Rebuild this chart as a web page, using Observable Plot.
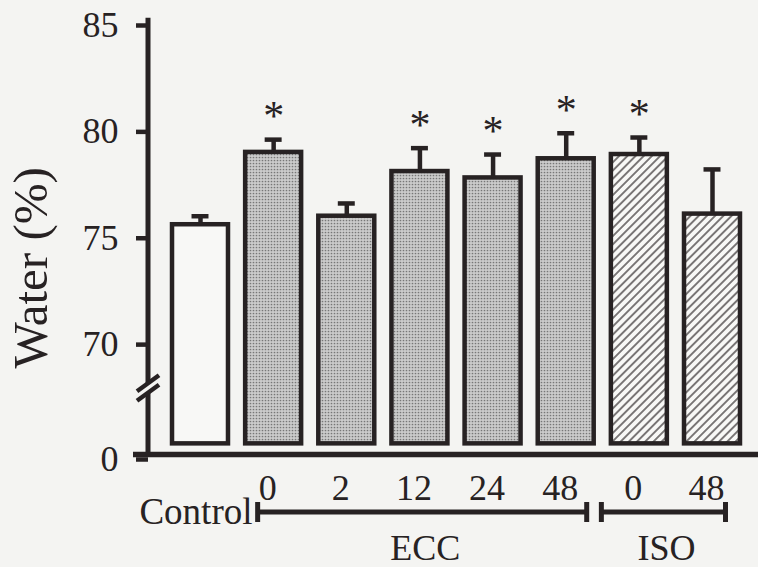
<!DOCTYPE html>
<html>
<head>
<meta charset="utf-8">
<script src="https://cdn.jsdelivr.net/npm/d3@7"></script>
<script src="https://cdn.jsdelivr.net/npm/@observablehq/plot@0.6"></script>
<style>
  html, body { margin: 0; padding: 0; background: #f4f4f2; }
  #chart svg { display: block; }
</style>
</head>
<body>
<div id="chart"></div>
<script>
// Muscle water content (%) in control and after eccentric (ECC) or isometric (ISO) exercise, by hours post-exercise
const groups      = ["Control", "ECC 0", "ECC 2", "ECC 12", "ECC 24", "ECC 48", "ISO 0", "ISO 48"];
const conditions  = ["Control", "ECC", "ECC", "ECC", "ECC", "ECC", "ISO", "ISO"];
const hourLabels  = ["", "0", "2", "12", "24", "48", "0", "48"];
const meanWater   = [75.4, 78.8, 75.8, 77.9, 77.6, 78.5, 78.7, 75.9];
const semWater    = [0.4, 0.6, 0.6, 1.1, 1.1, 1.2, 0.8, 2.1];
const significant = [false, true, false, true, true, true, true, false];
const yTitle = "Water (%)";

// Broken y axis: the bottom of the axis stands for 0
const yTicks    = [70, 75, 80, 85];
const axisZero  = 64.6;
const barBase   = 65.1;
const axisBreak = 67.7;

const brackets = [
  {label: "ECC", from: "ECC 0", to: "ECC 48"},
  {label: "ISO", from: "ISO 0", to: "ISO 48"}
];

// Styles
const ink = "#272223";
const paper = "#f4f4f2";
const fills = {Control: "#f8f8f6", ECC: "url(#stipple)", ISO: "url(#hatch)"};
const bracketTrim = {ECC: [14.5, 9], ISO: [-7.5, 16.5]};
const serif = "'Liberation Serif', 'Times New Roman', Times, serif";

const rows = groups.map((g, i) => ({
  group: g,
  condition: conditions[i],
  mean: meanWater[i],
  hi: meanWater[i] + semWater[i],
  sig: significant[i]
}));

// Vertical axis line with a "//" break, and the rotated axis title
function brokenAxis(index, scales, values, dims) {
  const y = scales.y;
  const x0 = dims.marginLeft;
  const yb = y(axisBreak);
  const g = d3.create("svg:g");
  const lines = g.append("g").attr("stroke", ink).attr("fill", "none");
  lines.append("line").attr("x1", x0).attr("x2", x0)
    .attr("y1", y(y.domain()[1]) - 2.25).attr("y2", yb - 4)
    .attr("stroke-width", 5);
  lines.append("line").attr("x1", x0).attr("x2", x0)
    .attr("y1", yb + 5).attr("y2", y(axisZero))
    .attr("stroke-width", 5);
  for (const off of [-4.75, 4.75]) {
    lines.append("line")
      .attr("x1", x0 - 11).attr("y1", yb + off + 8)
      .attr("x2", x0 + 11).attr("y2", yb + off - 8)
      .attr("stroke-width", 4.5);
  }
  g.append("text")
    .attr("transform", `translate(${x0 - 101},${y(73.35)}) rotate(-90)`)
    .attr("text-anchor", "middle").attr("fill", ink)
    .attr("font-size", 49).attr("font-family", serif)
    .text(yTitle);
  return g.node();
}

// Brackets grouping the ECC and ISO bars, with their labels
function groupBrackets(index, scales, values, dims) {
  const x = scales.x, y = scales.y;
  const bw = x.bandwidth();
  const yLine = y(axisZero) + 58;
  const g = d3.create("svg:g");
  for (const b of brackets) {
    const [l, r] = bracketTrim[b.label];
    const x1 = x(b.from) + l;
    const x2 = x(b.to) + bw - r;
    g.append("line").attr("x1", x1).attr("x2", x2).attr("y1", yLine).attr("y2", yLine)
      .attr("stroke", ink).attr("stroke-width", 5);
    for (const xe of [x1, x2]) {
      g.append("line").attr("x1", xe).attr("x2", xe).attr("y1", yLine - 10).attr("y2", yLine + 10)
        .attr("stroke", ink).attr("stroke-width", 5);
    }
    g.append("text").attr("x", (x1 + x2) / 2 + 3).attr("y", yLine + 48)
      .attr("text-anchor", "middle").attr("fill", ink)
      .attr("font-size", 36).attr("font-family", serif)
      .text(b.label);
  }
  return g.node();
}

const chart = Plot.plot({
  width: 758,
  height: 567,
  marginTop: 20,
  marginBottom: 113,
  marginLeft: 148,
  marginRight: 0,
  style: {background: paper, color: ink, fontFamily: serif},
  x: {type: "band", domain: groups, range: [163.43, 748.57], paddingInner: 0.18, paddingOuter: 0.09, round: false},
  y: {domain: [axisZero, 85]},
  color: {type: "identity"},
  marks: [
    Plot.barY(rows, {
      x: "group", y1: () => barBase, y2: "mean",
      fill: d => fills[d.condition],
      stroke: ink, strokeWidth: 4.5, insetLeft: 2, insetRight: 2
    }),
    Plot.ruleX(rows, {x: "group", y1: "mean", y2: "hi", stroke: ink, strokeWidth: 4.5}),
    Plot.tickY(rows, {x: "group", y: "hi", stroke: ink, strokeWidth: 4.5, insetLeft: 21.5, insetRight: 21.5}),
    Plot.text(rows.filter(d => d.sig), {
      x: "group", y: "hi", text: () => "*", dy: -23,
      fontSize: 42, fontFamily: serif, fill: ink
    }),
    Plot.ruleY([axisZero], {stroke: ink, strokeWidth: 5.5, insetLeft: -15}),
    brokenAxis,
    Plot.axisY([axisZero, ...yTicks], {
      tickFormat: d => d === axisZero ? "0" : String(d),
      tickSize: 12, tickPadding: 18, strokeWidth: 4.5,
      fontSize: 36, dy: 5, label: null
    }),
    Plot.axisX({
      tickSize: 0, tickPadding: 20,
      tickFormat: g => hourLabels[groups.indexOf(g)],
      fontSize: 36, dx: -6, label: null
    }),
    Plot.text(rows.filter(d => d.condition === "Control"), {
      x: "group", y: () => axisZero, text: "condition",
      textAnchor: "end", dx: 52, dy: 58, fontSize: 37, fontFamily: serif, fill: ink
    }),
    groupBrackets
  ]
});

// Fill patterns for the ECC (stippled) and ISO (hatched) bars
const defs = d3.select(chart).insert("defs", ":first-child");
const stipple = defs.append("pattern").attr("id", "stipple")
  .attr("width", 3).attr("height", 3).attr("patternUnits", "userSpaceOnUse");
stipple.append("rect").attr("width", 3).attr("height", 3).attr("fill", "#cbcbcb");
stipple.append("circle").attr("cx", 1.5).attr("cy", 1.5).attr("r", 0.85).attr("fill", "#777");
const hatch = defs.append("pattern").attr("id", "hatch")
  .attr("width", 5.8).attr("height", 5.8).attr("patternUnits", "userSpaceOnUse")
  .attr("patternTransform", "rotate(45)");
hatch.append("rect").attr("width", 5.8).attr("height", 5.8).attr("fill", "#f8f8f6");
hatch.append("line").attr("x1", 2.9).attr("x2", 2.9).attr("y1", 0).attr("y2", 5.8)
  .attr("stroke", "#3a3536").attr("stroke-width", 1.3);

document.getElementById("chart").appendChild(chart);
</script>
</body>
</html>
